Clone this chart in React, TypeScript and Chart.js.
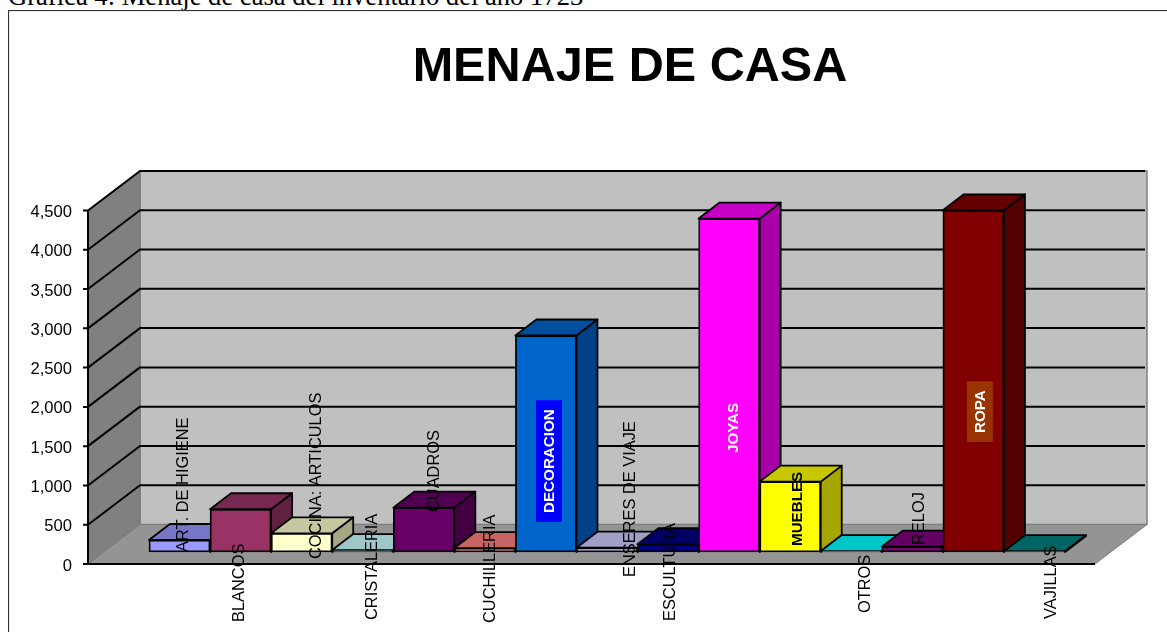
import React, { useEffect, useRef } from "react";
import { Chart, registerables } from "chart.js";

Chart.register(...registerables);

const CAPTION = "Gráfica 4: Menaje de casa del inventario del año 1723";
const TITLE = "MENAJE DE CASA";

const categories = [
  "ART. DE HIGIENE", "BLANCOS", "COCINA: ARTICULOS", "CRISTALERIA", "CUADROS",
  "CUCHILLERIA", "DECORACION", "ENSERES DE VIAJE", "ESCULTURA", "JOYAS",
  "MUEBLES", "OTROS", "RELOJ", "ROPA", "VAJILLAS",
];
const values = [153, 544, 238, 25, 565, 50, 2756, 55, 100, 4245, 896, 12, 68, 4350, 10];
const barColors = [
  "#9999ff", "#993366", "#ffffcc", "#ccffff", "#660066", "#ff8080", "#0066cc", "#ccccff",
  "#000080", "#ff00ff", "#ffff00", "#00ffff", "#800080", "#800000", "#008080",
];

// label placement: shift from the bar centre, and start of the rotated text relative to the axis zero
const labelShiftX = [2.4, -2.7, 13.3, 8.2, 9.1, 4, 3, 21, 0.8, 3.8, 6.7, 12.6, 5.6, 6.5, 15.5];
const labelStartY = [-12, 58, -5, 56, -52, 59, -51, 13, 57, -111, -18, 49, -19, -131, 55];
const labelBold = [6, 9, 10, 13];
const labelColors: Record<number, string> = { 6: "#ffffff", 9: "#ffffff", 13: "#ffffff" };
const labelBoxes: Record<number, { fill: string; pad: number }> = {
  6: { fill: "#0000ff", pad: 9 },
  13: { fill: "#993300", pad: 9 },
};

const WALL_DX = 52, WALL_DY = -39.5;
const PLANE_DX = 16, PLANE_DY = -12;
const BAR_DX = 21, BAR_DY = -16;
const FLOOR_LEFT = 80, FLOOR_RIGHT = 1087;
const FONT = '"Liberation Sans", Arial, sans-serif';

function shade(hex: string, f: number) {
  const n = parseInt(hex.slice(1), 16);
  const c = [(n >> 16) & 255, (n >> 8) & 255, n & 255].map((v) => Math.round(v * f));
  return `rgb(${c[0]},${c[1]},${c[2]})`;
}

function poly(ctx: CanvasRenderingContext2D, pts: number[][], fill: string, stroke?: string, lw = 1.8) {
  ctx.beginPath();
  pts.forEach((p, i) => (i ? ctx.lineTo(p[0], p[1]) : ctx.moveTo(p[0], p[1])));
  ctx.closePath();
  ctx.fillStyle = fill;
  ctx.fill();
  if (stroke) {
    ctx.strokeStyle = stroke;
    ctx.lineWidth = lw;
    ctx.lineJoin = "round";
    ctx.stroke();
  }
}

const scene3d = {
  id: "scene3d",
  afterLayout(chart: any) {
    // the tick labels sit 2px below their gridline in the reference
    const y = chart.scales.y;
    if (y.__shifted) return;
    y.__shifted = true;
    const draw = y.drawLabels.bind(y);
    y.drawLabels = (area: any) => {
      chart.ctx.save();
      chart.ctx.translate(0, 2);
      draw(area);
      chart.ctx.restore();
    };
  },
  beforeDatasetsDraw(chart: any) {
    const { ctx, scales } = chart;
    const y = scales.y;
    const y0 = y.getPixelForValue(0);
    const yTop = y.getPixelForValue(4500);
    const L = FLOOR_LEFT, R = FLOOR_RIGHT;
    ctx.save();
    // frame
    ctx.strokeStyle = "#333333";
    ctx.lineWidth = 1.2;
    ctx.strokeRect(0.5, 0.5, chart.width - 1, chart.height - 1);
    // title
    ctx.fillStyle = "#000000";
    ctx.font = `bold 48.6px ${FONT}`;
    ctx.textAlign = "center";
    ctx.textBaseline = "alphabetic";
    ctx.fillText(TITLE, 622, 71);
    // back wall
    poly(ctx, [[L + WALL_DX, yTop + WALL_DY], [R + WALL_DX, yTop + WALL_DY], [R + WALL_DX, y0 + WALL_DY], [L + WALL_DX, y0 + WALL_DY]], "#c0c0c0", "#777777", 1.4);
    // side wall
    poly(ctx, [[L, yTop], [L + WALL_DX, yTop + WALL_DY], [L + WALL_DX, y0 + WALL_DY], [L, y0]], "#808080", "#777777", 1.2);
    // floor
    poly(ctx, [[L, y0], [L + WALL_DX, y0 + WALL_DY], [R + WALL_DX, y0 + WALL_DY], [R, y0]], "#949494", "#7d7d7d", 1);
    // gridlines from the value scale
    ctx.strokeStyle = "#000000";
    ctx.lineWidth = 2;
    y.ticks.forEach((t: any) => {
      const p = y.getPixelForValue(t.value);
      ctx.beginPath();
      ctx.moveTo(L - 5, p);
      ctx.lineTo(L, p);
      if (t.value > 0) {
        ctx.lineTo(L + WALL_DX, p + WALL_DY);
        ctx.lineTo(R + WALL_DX - 2, p + WALL_DY);
      } else {
        ctx.lineTo(R, p);
      }
      ctx.stroke();
    });
    ctx.beginPath();
    ctx.moveTo(L, yTop);
    ctx.lineTo(L, y0);
    ctx.stroke();
    // darker stretch along the wall's top edge
    ctx.lineWidth = 1.4;
    ctx.beginPath();
    ctx.moveTo(L + WALL_DX, yTop + WALL_DY);
    ctx.lineTo(L + WALL_DX + 300, yTop + WALL_DY);
    ctx.stroke();
    ctx.restore();
  },
  beforeDatasetDraw(chart: any, args: any) {
    const { ctx } = chart;
    const meta = chart.getDatasetMeta(args.index);
    ctx.save();
    ctx.translate(PLANE_DX, PLANE_DY);
    meta.data.forEach((bar: any, i: number) => {
      const { x, y, base, width } = bar.getProps(["x", "y", "base", "width"], true);
      const r = x + width / 2, l = x - width / 2;
      const color = barColors[i];
      poly(ctx, [[r, y], [r + BAR_DX, y + BAR_DY], [r + BAR_DX, base + BAR_DY], [r, base]], shade(color, 0.65), "#000000");
      poly(ctx, [[l, y], [l + BAR_DX, y + BAR_DY], [r + BAR_DX, y + BAR_DY], [r, y]], shade(color, 0.78), "#000000");
    });
  },
  afterDatasetDraw(chart: any) {
    chart.ctx.restore();
  },
  afterDatasetsDraw(chart: any) {
    const { ctx, scales } = chart;
    const y0 = scales.y.getPixelForValue(0);
    const meta = chart.getDatasetMeta(0);
    ctx.save();
    ctx.textBaseline = "middle";
    ctx.textAlign = "left";
    categories.forEach((label, i) => {
      const bold = labelBold.includes(i);
      ctx.font = `${bold ? "bold 15.2px" : "16.4px"} ${FONT}`;
      const px = meta.data[i].x + PLANE_DX + labelShiftX[i];
      const py = y0 + labelStartY[i];
      const w = ctx.measureText(label).width;
      const box = labelBoxes[i];
      if (box) {
        ctx.fillStyle = box.fill;
        ctx.fillRect(px - 13, py - w - box.pad, 26, w + box.pad * 2);
      }
      ctx.save();
      ctx.translate(px, py);
      ctx.rotate(-Math.PI / 2);
      ctx.fillStyle = labelColors[i] || "#000000";
      ctx.fillText(label, 0, bold ? 1 : 2);
      ctx.restore();
    });
    ctx.restore();
  },
};

export default function App() {
  const ref = useRef<HTMLCanvasElement>(null);
  useEffect(() => {
    if (!ref.current) return;
    const chart = new Chart(ref.current, {
      type: "bar",
      data: {
        labels: categories,
        datasets: [
          {
            data: values,
            backgroundColor: barColors,
            borderColor: "#000000",
            borderWidth: 1.8,
            borderSkipped: false,
            barPercentage: 1,
            categoryPercentage: 1,
            clip: false,
          } as any,
        ],
      },
      plugins: [scene3d],
      options: {
        responsive: false,
        animation: false,
        events: [],
        layout: { autoPadding: false, padding: { left: 8, right: 203, top: 200.5, bottom: 86 } },
        plugins: {
          legend: { display: false },
          tooltip: { enabled: false },
          title: { display: false },
        },
        scales: {
          x: { display: false },
          y: {
            min: 0,
            max: 4500,
            afterFit(s: any) {
              s.width = 117;
            },
            border: { display: false },
            grid: { display: false, drawTicks: false },
            ticks: {
              stepSize: 500,
              padding: 61,
              color: "#000000",
              font: { family: FONT, size: 16.6 },
              callback: (v: any) => Number(v).toLocaleString("en-US"),
            },
          },
        },
      } as any,
    });
    return () => chart.destroy();
  }, []);

  return (
    <div style={{ position: "fixed", inset: 0, overflow: "hidden", background: "#ffffff" }}>
      <div
        style={{
          position: "absolute",
          left: 8,
          top: -19,
          fontFamily: '"Liberation Serif", "Times New Roman", serif',
          fontSize: 26.6,
          whiteSpace: "nowrap",
          color: "#000000",
        }}
      >
        {CAPTION}
      </div>
      <canvas ref={ref} width={1244} height={640} style={{ position: "absolute", left: 8, top: 10, display: "block" }} />
    </div>
  );
}
